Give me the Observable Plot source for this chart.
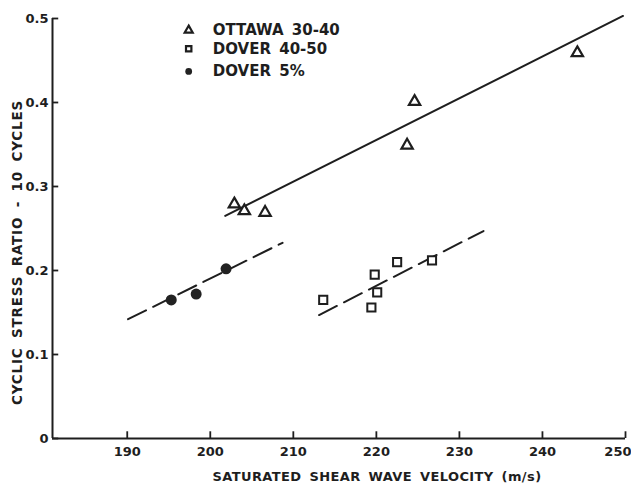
<!DOCTYPE html>
<html>
<head>
<meta charset="utf-8">
<script src="https://cdn.jsdelivr.net/npm/d3@7"></script>
<script src="https://cdn.jsdelivr.net/npm/@observablehq/plot@0.6"></script>
<style>
  html, body { margin: 0; padding: 0; background: #fff; }
  #chart { width: 631px; height: 492px; }
  svg text { font-family: "DejaVu Sans", sans-serif; }
</style>
</head>
<body>
<div id="chart"></div>
<script>
// ---- data ----
const seriesNames = ["OTTAWA 30-40", "DOVER 40-50", "DOVER 5%"];
const seriesSymbols = ["triangle", "square", "circle"];

const ottawaX = [202.9, 204.1, 206.6, 223.7, 224.6, 244.2];
const ottawaY = [0.279, 0.271, 0.269, 0.349, 0.401, 0.459];

const dover4050X = [213.6, 219.4, 219.8, 220.1, 222.5, 226.7];
const dover4050Y = [0.165, 0.156, 0.195, 0.174, 0.210, 0.212];

const dover5X = [195.3, 198.3, 201.9];
const dover5Y = [0.165, 0.172, 0.202];

// fitted trend lines (end points)
const ottawaLineX = [201.8, 249.7];
const ottawaLineY = [0.265, 0.503];
const dover4050LineX = [213.1, 232.9];
const dover4050LineY = [0.147, 0.247];
const dover5LineX = [190.1, 208.7];
const dover5LineY = [0.142, 0.233];

const xTicks = [190, 200, 210, 220, 230, 240, 250];
const yTicks = [0, 0.1, 0.2, 0.3, 0.4, 0.5];
const yTickLabels = ["0", "0.1", "0.2", "0.3", "0.4", "0.5"];
const xTitle = "SATURATED SHEAR WAVE VELOCITY (m/s)";
const yTitle = "CYCLIC STRESS RATIO - 10 CYCLES";

// ---- build tables ----
const pts = (xs, ys) => xs.map((x, i) => ({x, y: ys[i]}));
const ottawa = pts(ottawaX, ottawaY);
const dover4050 = pts(dover4050X, dover4050Y);
const dover5 = pts(dover5X, dover5Y);
const legend = seriesNames.map((name, i) => ({name, symbol: seriesSymbols[i], i}));
const legendRowY = [0.486, 0.464, 0.437];
const lastX = xTicks[xTicks.length - 1];

const ink = "#1e1e1e";

const chart = Plot.plot({
  width: 631,
  height: 492,
  marginLeft: 52,
  marginRight: 6,
  marginTop: 18,
  marginBottom: 54,
  style: {background: "#fff", color: ink, fontFamily: "DejaVu Sans, sans-serif"},
  x: {domain: [181, 250]},
  y: {domain: [0, 0.5]},
  marks: [
    // axes lines
    Plot.ruleY([0], {stroke: ink, strokeWidth: 2}),
    Plot.ruleX([181], {stroke: ink, strokeWidth: 2}),
    // inward ticks
    Plot.ruleX(xTicks, {y1: 0, y2: 0.008, stroke: ink, strokeWidth: 1.8}),
    Plot.ruleY(yTicks, {x1: 181, x2: 181.75, stroke: ink, strokeWidth: 1.8}),
    // tick labels
    Plot.axisX({ticks: xTicks.slice(0, -1), tickSize: 0, tickPadding: 8, label: null, fontSize: 13, fontWeight: "bold"}),
    Plot.text([lastX], {x: d => d, frameAnchor: "bottom", dy: 13, text: d => String(d), textAnchor: "end", dx: 6,
      lineAnchor: "middle", fontSize: 13, fontWeight: "bold", fill: ink}),
    Plot.axisY({ticks: yTicks, tickSize: 0, tickPadding: 4, label: null, fontSize: 13, fontWeight: "bold",
      tickFormat: (d) => yTickLabels[yTicks.indexOf(d)]}),
    // axis titles
    Plot.text([xTitle], {frameAnchor: "bottom", textAnchor: "middle", lineAnchor: "middle", dx: 38, dy: 38, text: d => d,
      fontSize: 13, fill: ink, fontWeight: "bold"}),
    Plot.text([yTitle], {frameAnchor: "left", textAnchor: "middle", lineAnchor: "middle", rotate: -90, dx: -35, dy: 24, text: d => d,
      fontSize: 13.5, fill: ink, fontWeight: "bold"}),
    // trend lines
    Plot.line(pts(ottawaLineX, ottawaLineY), {x: "x", y: "y", stroke: ink, strokeWidth: 2}),
    Plot.line(pts(dover4050LineX, dover4050LineY), {x: "x", y: "y", stroke: ink, strokeWidth: 2, strokeDasharray: "20,8"}),
    Plot.line(pts(dover5LineX, dover5LineY), {x: "x", y: "y", stroke: ink, strokeWidth: 2, strokeDasharray: "20,8"}),
    // points
    Plot.dot(ottawa, {x: "x", y: "y", symbol: "triangle", r: 4.2, stroke: ink, strokeWidth: 2.2, fill: "#fff"}),
    Plot.dot(dover4050, {x: "x", y: "y", symbol: "square", r: 4.6, stroke: ink, strokeWidth: 2, fill: "#fff"}),
    Plot.dot(dover5, {x: "x", y: "y", symbol: "circle", r: 5.5, fill: "#222", stroke: "none"}),
    // legend
    Plot.dot(legend, {x: () => 197.4, y: d => legendRowY[d.i], symbol: "symbol",
      r: d => d.symbol === "circle" ? 5.5 : (d.symbol === "square" ? 4.4 : 4.2),
      stroke: d => d.symbol === "circle" ? "none" : ink,
      fill: d => d.symbol === "circle" ? "#222" : "#fff", strokeWidth: 2.2}),
    Plot.text(legend, {x: () => 200.3, y: d => legendRowY[d.i], text: "name", textAnchor: "start",
      fontSize: 15, fontWeight: "bold", fill: ink})
  ]
});
// letter / word spacing of the titles and legend
d3.select(chart).selectAll("text").each(function () {
  const t = this.textContent;
  if (t === xTitle) d3.select(this).style("word-spacing", "3px").style("letter-spacing", "0.4px");
  else if (t === yTitle) d3.select(this).style("word-spacing", "4px").style("letter-spacing", "0.8px");
  else if (seriesNames.includes(t)) d3.select(this).style("word-spacing", "3px");
});
document.getElementById("chart").appendChild(chart);
</script>
</body>
</html>
